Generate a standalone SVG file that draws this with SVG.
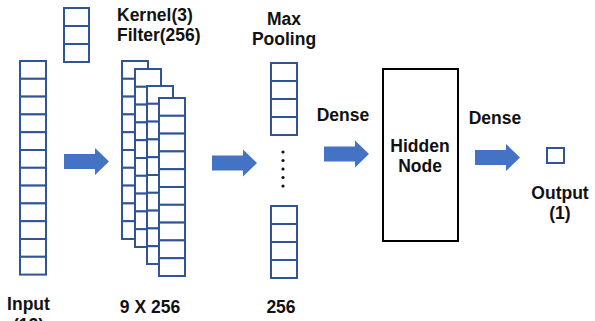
<svg xmlns="http://www.w3.org/2000/svg" width="595" height="321" viewBox="0 0 595 321">
<style>
.cell{fill:#fff;stroke:#2F5597;stroke-width:2}
.arr{fill:#4472C4}
.t{font-family:"Liberation Sans","Noto Sans",sans-serif;font-weight:bold;font-size:17.5px;fill:#111}
.m{text-anchor:middle}
</style>
<defs>
<path id="ar" d="M0,6 H31 V0 L45,13.5 L31,27 V21 H0 Z"/>
</defs>
<rect width="595" height="321" fill="#fff"/>
<g id="input">
<rect class="cell" x="20" y="61" width="26" height="17.8"/>
<rect class="cell" x="20" y="78.8" width="26" height="17.8"/>
<rect class="cell" x="20" y="96.6" width="26" height="17.8"/>
<rect class="cell" x="20" y="114.4" width="26" height="17.8"/>
<rect class="cell" x="20" y="132.2" width="26" height="17.8"/>
<rect class="cell" x="20" y="150" width="26" height="17.8"/>
<rect class="cell" x="20" y="167.8" width="26" height="17.8"/>
<rect class="cell" x="20" y="185.6" width="26" height="17.8"/>
<rect class="cell" x="20" y="203.4" width="26" height="17.8"/>
<rect class="cell" x="20" y="221.2" width="26" height="17.8"/>
<rect class="cell" x="20" y="239" width="26" height="17.8"/>
<rect class="cell" x="20" y="256.8" width="26" height="17.8"/>
<text class="t m" x="28.5" y="310">Input</text>
<text class="t m" x="28.5" y="331">(12)</text>
</g>
<g id="kernel">
<rect class="cell" x="64" y="8" width="25" height="18"/>
<rect class="cell" x="64" y="26" width="25" height="18"/>
<rect class="cell" x="64" y="44" width="25" height="18"/>
<text class="t" x="117" y="21">Kernel(3)</text>
<text class="t" x="117" y="41">Filter(256)</text>
</g>
<g id="conv">
<g transform="translate(122,61)">
<rect class="cell" x="0" y="0" width="26" height="17.8"/><rect class="cell" x="0" y="17.8" width="26" height="17.8"/><rect class="cell" x="0" y="35.6" width="26" height="17.8"/><rect class="cell" x="0" y="53.4" width="26" height="17.8"/><rect class="cell" x="0" y="71.2" width="26" height="17.8"/><rect class="cell" x="0" y="89" width="26" height="17.8"/><rect class="cell" x="0" y="106.8" width="26" height="17.8"/><rect class="cell" x="0" y="124.6" width="26" height="17.8"/><rect class="cell" x="0" y="142.4" width="26" height="17.8"/><rect class="cell" x="0" y="160.2" width="26" height="17.8"/>
</g>
<g transform="translate(135,69)">
<rect class="cell" x="0" y="0" width="26" height="17.8"/><rect class="cell" x="0" y="17.8" width="26" height="17.8"/><rect class="cell" x="0" y="35.6" width="26" height="17.8"/><rect class="cell" x="0" y="53.4" width="26" height="17.8"/><rect class="cell" x="0" y="71.2" width="26" height="17.8"/><rect class="cell" x="0" y="89" width="26" height="17.8"/><rect class="cell" x="0" y="106.8" width="26" height="17.8"/><rect class="cell" x="0" y="124.6" width="26" height="17.8"/><rect class="cell" x="0" y="142.4" width="26" height="17.8"/><rect class="cell" x="0" y="160.2" width="26" height="17.8"/>
</g>
<g transform="translate(147,86)">
<rect class="cell" x="0" y="0" width="26" height="17.8"/><rect class="cell" x="0" y="17.8" width="26" height="17.8"/><rect class="cell" x="0" y="35.6" width="26" height="17.8"/><rect class="cell" x="0" y="53.4" width="26" height="17.8"/><rect class="cell" x="0" y="71.2" width="26" height="17.8"/><rect class="cell" x="0" y="89" width="26" height="17.8"/><rect class="cell" x="0" y="106.8" width="26" height="17.8"/><rect class="cell" x="0" y="124.6" width="26" height="17.8"/><rect class="cell" x="0" y="142.4" width="26" height="17.8"/><rect class="cell" x="0" y="160.2" width="26" height="17.8"/>
</g>
<g transform="translate(159,98)">
<rect class="cell" x="0" y="0" width="26" height="17.8"/><rect class="cell" x="0" y="17.8" width="26" height="17.8"/><rect class="cell" x="0" y="35.6" width="26" height="17.8"/><rect class="cell" x="0" y="53.4" width="26" height="17.8"/><rect class="cell" x="0" y="71.2" width="26" height="17.8"/><rect class="cell" x="0" y="89" width="26" height="17.8"/><rect class="cell" x="0" y="106.8" width="26" height="17.8"/><rect class="cell" x="0" y="124.6" width="26" height="17.8"/><rect class="cell" x="0" y="142.4" width="26" height="17.8"/><rect class="cell" x="0" y="160.2" width="26" height="17.8"/>
</g>
<text class="t m" x="150" y="313">9 X 256</text>
</g>
<g id="maxpool">
<rect class="cell" x="271" y="63" width="26" height="18"/>
<rect class="cell" x="271" y="81" width="26" height="18"/>
<rect class="cell" x="271" y="99" width="26" height="18"/>
<rect class="cell" x="271" y="117" width="26" height="18"/>
<g fill="#111">
<circle cx="283" cy="152" r="1.6"/><circle cx="283" cy="160.5" r="1.6"/><circle cx="283" cy="169" r="1.6"/><circle cx="283" cy="177.5" r="1.6"/><circle cx="283" cy="186" r="1.6"/>
</g>
<rect class="cell" x="271" y="206" width="26" height="18"/>
<rect class="cell" x="271" y="224" width="26" height="18"/>
<rect class="cell" x="271" y="242" width="26" height="18"/>
<rect class="cell" x="271" y="260" width="26" height="18"/>
<text class="t m" x="284" y="25">Max</text>
<text class="t m" x="284" y="45">Pooling</text>
<text class="t m" x="281" y="313">256</text>
</g>
<g id="hidden">
<rect x="383" y="69" width="75" height="172" fill="#fff" stroke="#000" stroke-width="2"/>
<text class="t m" x="420" y="152">Hidden</text>
<text class="t m" x="420" y="172">Node</text>
</g>
<g id="output">
<rect class="cell" x="547" y="148" width="17" height="15"/>
<text class="t m" x="560" y="199">Output</text>
<text class="t m" x="560" y="219">(1)</text>
</g>
<g id="connectors">
<use href="#ar" class="arr" transform="translate(64,148)"/>
<use href="#ar" class="arr" transform="translate(212,149.5)"/>
<use href="#ar" class="arr" transform="translate(324,140.5)"/>
<use href="#ar" class="arr" transform="translate(475,144)"/>
<text class="t m" x="343" y="121">Dense</text>
<text class="t m" x="495" y="124">Dense</text>
</g>
</svg>
